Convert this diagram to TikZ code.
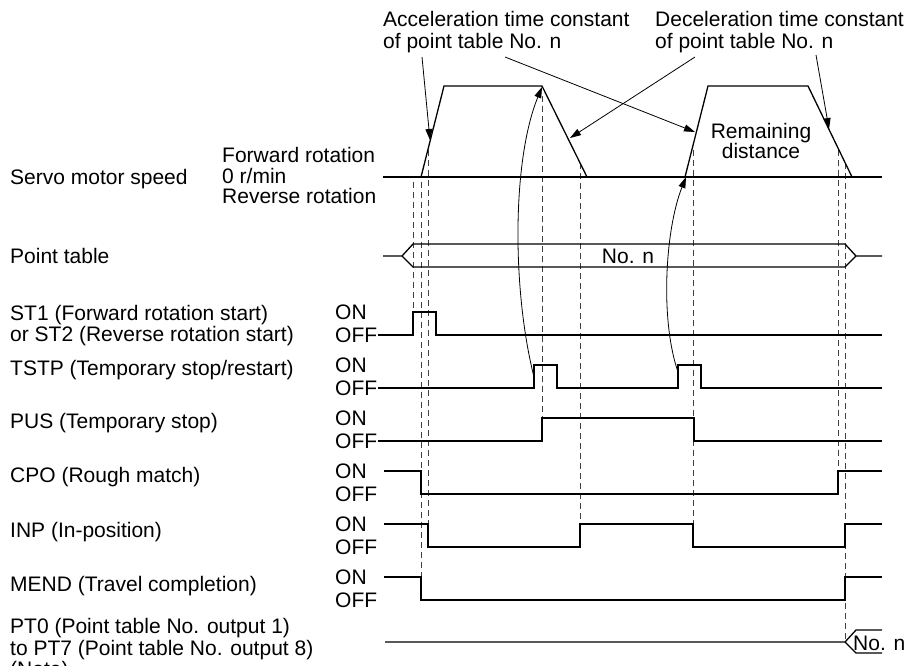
\documentclass[tikz,border=0pt]{standalone}
\usepackage{fontspec}
\setmainfont{Liberation Sans}
\usetikzlibrary{arrows.meta}
\begin{document}
\begin{tikzpicture}[x=1pt,y=-1pt,
  sig/.style={line width=1.3pt, line join=miter},
  guide/.style={line width=0.9pt, draw=black!75, dash pattern=on 6pt off 4pt},
  lbl/.style={inner sep=0pt, anchor=base west, font=\fontsize{21}{21}\selectfont},
  clbl/.style={inner sep=0pt, anchor=base, font=\fontsize{21}{21}\selectfont},
  ptr/.style={line width=0.8pt, -{Triangle[length=11pt,width=7pt]}},
]
\useasboundingbox (0,0) rectangle (917,665);

% ---------- left labels ----------
\node[lbl] (lspeed) at (10,184) {Servo motor speed};
\node[lbl] (ltable) at (10,263) {Point table};
\node[lbl] (lst1)   at (10,320) {ST1 (Forward rotation start)};
\node[lbl] (lst2)   at (10,341) {or ST2 (Reverse rotation start)};
\node[lbl] (ltstp)  at (10,375.5) {TSTP (Temporary stop/restart)};
\node[lbl] (lpus)   at (10,428.5) {PUS (Temporary stop)};
\node[lbl] (lcpo)   at (10,482.5) {CPO (Rough match)};
\node[lbl] (linp)   at (10,537.5) {INP (In-position)};
\node[lbl] (lmend)  at (10,591.5) {MEND (Travel completion)};
\node[lbl] (lpt0)   at (10,633.5) {PT0 (Point table No. output 1)};
\node[lbl] (lpt7)   at (10,655) {to PT7 (Point table No. output 8)};
\node[lbl] (lnote)  at (10,676) {(Note)};

\node[lbl] (fwd) at (222,162) {Forward rotation};
\node[lbl] (zero) at (222,183) {0 r/min};
\node[lbl] (rev) at (222,203) {Reverse rotation};

\foreach \k in {0,...,5}{
  \node[lbl] (on\k)  at (335,{319.5+53*\k}) {ON};
  \node[lbl] (off\k) at (335,{342.5+53*\k}) {OFF};
}

% ---------- top annotations ----------
\node[lbl] (acc1) at (383,26) {Acceleration time constant};
\node[lbl] (acc2) at (383,48) {of point table No. n};
\node[lbl] (dec1) at (655,26) {Deceleration time constant};
\node[lbl] (dec2) at (655,48) {of point table No. n};
\node[clbl] (rem1) at (761,138) {Remaining};
\node[clbl] (rem2) at (761,158) {distance};

% ---------- guides ----------
\draw[guide] (413,182) -- (413,312);
\draw[guide] (421,182) -- (421,577);
\draw[guide] (428,150) -- (428,524);
\draw[guide] (542,96)  -- (542,418);
\draw[guide] (580,163) -- (580,524);
\draw[guide] (693,150) -- (693,524);
\draw[guide] (838,150) -- (838,471);
\draw[guide] (845,163) -- (845,642);

% ---------- servo motor speed ----------
\draw[sig] (383,177) -- (882,177);
\draw[sig] (421,177) -- (444,86) -- (542,86) -- (587,177);
\draw[sig] (685,177) -- (708,86) -- (808,86) -- (852,177);

% ---------- point table ----------
\draw[sig] (383,256) -- (402,256) -- (413,244) -- (845,244) -- (856,256) -- (882,256);
\draw[sig] (402,256) -- (413,267) -- (845,267) -- (856,256);
\node[clbl] (non) at (628,263) {No. n};

% ---------- signals ----------
\draw[sig] (378,335) -- (413,335) -- (413,312) -- (436,312) -- (436,335) -- (882,335);
\draw[sig] (378,388) -- (534,388) -- (534,365) -- (557,365) -- (557,388) -- (678,388)
           -- (678,365) -- (701,365) -- (701,388) -- (882,388);
\draw[sig] (378,441) -- (542,441) -- (542,418) -- (694,418) -- (694,441) -- (882,441);
\draw[sig] (384,471) -- (421,471) -- (421,494) -- (838,494) -- (838,471) -- (882,471);
\draw[sig] (384,524) -- (428,524) -- (428,547) -- (580,547) -- (580,524) -- (693,524)
           -- (693,547) -- (845,547) -- (845,524) -- (882,524);
\draw[sig] (384,577) -- (421,577) -- (421,600) -- (845,600) -- (845,577) -- (882,577);
\draw[sig] (385,642) -- (845,642) -- (856,630) -- (882,630);
\draw[sig] (845,642) -- (856,653) -- (882,653);
\node[lbl] (ptn) at (853,650) {No. n};

% ---------- pointers ----------
\coordinate (accA) at (422,57);
\coordinate (accB) at (505,57);
\coordinate (decA) at (695,57);
\coordinate (decB) at (816,55);
\coordinate (rise1) at (430,140);
\coordinate (rise2) at (695,132);
\coordinate (fall1) at (570,138);
\coordinate (fall2) at (829,129);
\coordinate (ts1) at (534,377);
\coordinate (ts2) at (678,372);
\coordinate (peak1) at (542,87);
\coordinate (start2) at (686,177);
\draw[ptr] (accA) -- (rise1);
\draw[ptr] (accB) -- (rise2);
\draw[ptr] (decA) -- (fall1);
\draw[ptr] (decB) -- (fall2);
\draw[ptr] (ts1) .. controls (512,290) and (512,160) .. (peak1);
\draw[ptr] (ts2) .. controls (660,320) and (665,230) .. (start2);
\end{tikzpicture}
\end{document}
